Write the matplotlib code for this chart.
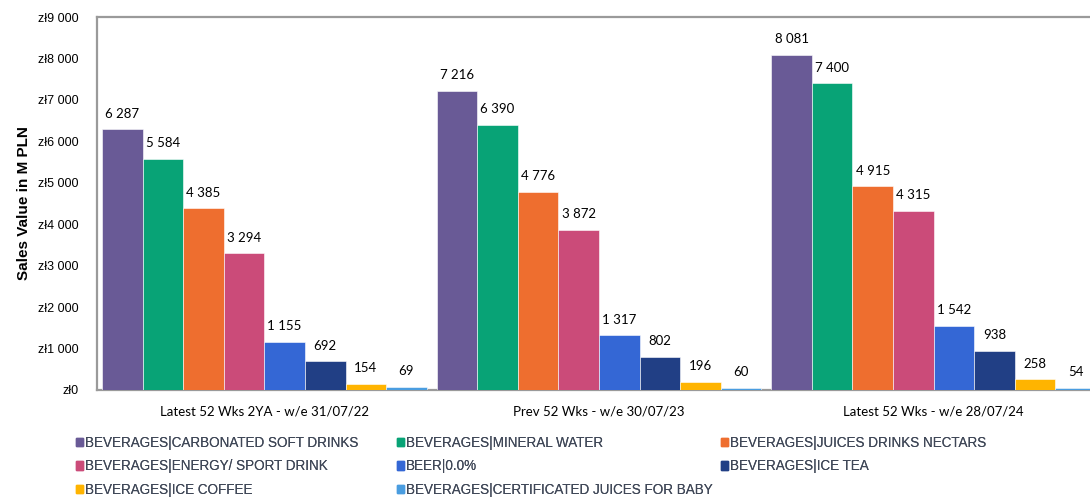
import matplotlib.pyplot as plt
from matplotlib.patches import Patch
import numpy as np

periods = ['Latest 52 Wks 2YA - w/e 31/07/22',
           'Prev 52 Wks - w/e 30/07/23',
           'Latest 52 Wks - w/e 28/07/24']

categories = ['BEVERAGES|CARBONATED SOFT DRINKS',
              'BEVERAGES|MINERAL WATER',
              'BEVERAGES|JUICES DRINKS NECTARS',
              'BEVERAGES|ENERGY/ SPORT DRINK',
              'BEER|0.0%',
              'BEVERAGES|ICE TEA',
              'BEVERAGES|ICE COFFEE',
              'BEVERAGES|CERTIFICATED JUICES FOR BABY']

# sales value (M PLN) per category, one entry per period
csd = [6287, 7216, 8081]
water = [5584, 6390, 7400]
juices = [4385, 4776, 4915]
energy = [3294, 3872, 4315]
beer0 = [1155, 1317, 1542]
ice_tea = [692, 802, 938]
ice_coffee = [154, 196, 258]
baby_juices = [69, 60, 54]

series = [csd, water, juices, energy, beer0, ice_tea, ice_coffee, baby_juices]
colors = ['#695A96', '#08A376', '#EE6E2F', '#CB4B79',
          '#3467D5', '#213F85', '#FFB400', '#4A9DE0']

fig = plt.figure(figsize=(10.9, 5.01), dpi=100)
ax = fig.add_axes([97 / 1090, 111 / 501, 1004 / 1090, 373 / 501])

x = np.arange(len(periods))
bw = 0.1213
for i, (vals, col) in enumerate(zip(series, colors)):
    pos = x - 4 * bw + (i + 0.5) * bw
    bars = ax.bar(pos, vals, width=bw, color=col, edgecolor='white', linewidth=0.4,
                  zorder=3)
    for b, v in zip(bars, vals):
        ax.annotate(f'{v:,}'.replace(',', ' '),
                    (b.get_x() + b.get_width() / 2, v),
                    xytext=(0, 7), textcoords='offset points',
                    ha='center', va='bottom', fontsize=9.5,
                    family='Lato', color='#000000')

ax.set_xlim(-0.5, 2.5)
ax.set_ylim(0, 9000)
ax.set_yticks(np.arange(0, 9001, 1000))
ax.set_yticklabels([f'zł{v:,}'.replace(',', ' ') for v in range(0, 9001, 1000)],
                   family='Liberation Sans', fontsize=9)
ax.set_xticks(x)
ax.set_xticklabels(periods, family='Lato', fontsize=9.5)
ax.tick_params(length=0, pad=13)
ax.tick_params(axis='x', pad=11)
ax.set_ylabel('Sales Value in M PLN', family='Liberation Sans', fontsize=11,
              fontweight='bold')
ax.yaxis.set_label_coords(-0.066, 0.5)

for s in ['left', 'bottom', 'top']:
    ax.spines[s].set_color('#9A9A9A')
    ax.spines[s].set_linewidth(1.6)
    ax.spines[s].set_zorder(2)
ax.spines['right'].set_visible(False)

# legend laid out in three columns at fixed positions, filled row by row
handles = [Patch(color=c, label=l) for c, l in zip(colors, categories)]
columns = [[0, 3, 6], [1, 4, 7], [2, 5]]
col_x = [76 / 1090, 397 / 1090, 721 / 1090]
for idx, cx in zip(columns, col_x):
    leg = fig.legend(handles=[handles[j] for j in idx], loc='upper left',
                     bbox_to_anchor=(cx, 0.13),
                     frameon=False, handlelength=0.55, handleheight=0.55,
                     handletextpad=0.12, labelspacing=0.7,
                     prop={'family': 'Liberation Sans', 'size': 9.75},
                     borderaxespad=0, borderpad=0)
    for t in leg.get_texts():
        t.set_color('#404858')
    fig.add_artist(leg)

fig.savefig('out.png', dpi=100)
